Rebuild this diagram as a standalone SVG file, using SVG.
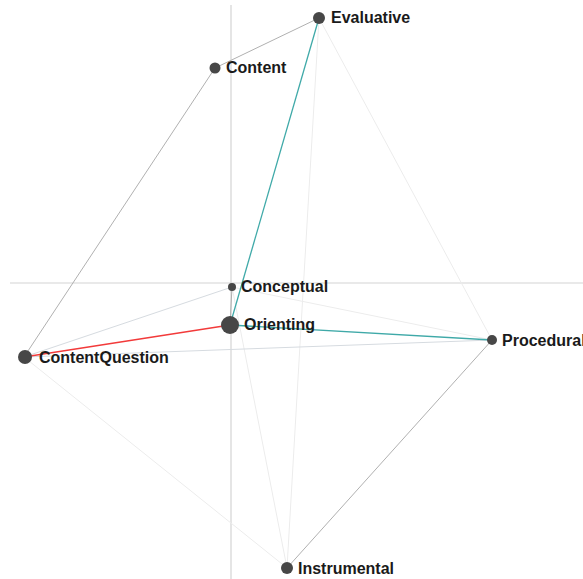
<svg xmlns="http://www.w3.org/2000/svg" width="583" height="579" viewBox="0 0 583 579">
<style>
.axis{stroke:#d4d4d4;stroke-width:1.2;fill:none}
.e{fill:none;stroke-width:1}
.g{stroke:#b0b0b0}
.lg{stroke:#d6dbe0}
.f{stroke:#ececec}
.teal{stroke:#3fa9a8;stroke-width:1.3}
.red{stroke:#f23a3a;stroke-width:1.5}
.n{fill:#474747}
.t{font-family:"Liberation Sans",Arial,sans-serif;font-weight:bold;font-size:16px;fill:#1a1a1a}
</style>
<rect width="583" height="579" fill="#ffffff"/>
<g id="axes">
<line class="axis" x1="231" y1="5" x2="231" y2="579"/>
<line class="axis" x1="10" y1="283" x2="583" y2="283"/>
</g>
<g id="connectors">
<line class="e f" x1="319" y1="18" x2="492" y2="340"/>
<line class="e f" x1="319" y1="18" x2="287" y2="568"/>
<line class="e f" x1="24" y1="357" x2="287" y2="568"/>
<line class="e f" x1="232" y1="287" x2="287" y2="568"/>
<line class="e f" x1="232" y1="287" x2="492" y2="340"/>
<line class="e lg" x1="24" y1="357" x2="492" y2="340"/>
<line class="e lg" x1="24" y1="357" x2="232" y2="287"/>
<line class="e g" x1="232" y1="287" x2="230" y2="325"/>
<line class="e g" x1="215" y1="68" x2="319" y2="18"/>
<line class="e g" x1="215" y1="68" x2="24" y2="357"/>
<line class="e g" x1="492" y1="340" x2="287" y2="568"/>
<line class="e teal" x1="319" y1="18" x2="230" y2="325"/>
<line class="e teal" x1="230" y1="325" x2="492" y2="340"/>
<line class="e red" x1="230" y1="325" x2="24" y2="357"/>
</g>
<g id="Evaluative"><circle class="n" cx="319" cy="18" r="6"/><text class="t" x="331" y="23">Evaluative</text></g>
<g id="Content"><circle class="n" cx="215" cy="68" r="5.5"/><text class="t" x="226" y="73">Content</text></g>
<g id="Conceptual"><circle class="n" cx="232" cy="287" r="4"/><text class="t" x="241" y="292">Conceptual</text></g>
<g id="Orienting"><circle class="n" cx="230" cy="325" r="9"/><text class="t" x="244" y="330">Orienting</text></g>
<g id="ContentQuestion"><circle class="n" cx="25" cy="357" r="7"/><text class="t" x="39" y="363">ContentQuestion</text></g>
<g id="Procedural"><circle class="n" cx="492" cy="340" r="5"/><text class="t" x="502" y="346">Procedural</text></g>
<g id="Instrumental"><circle class="n" cx="287" cy="568" r="6"/><text class="t" x="298" y="574">Instrumental</text></g>
</svg>
